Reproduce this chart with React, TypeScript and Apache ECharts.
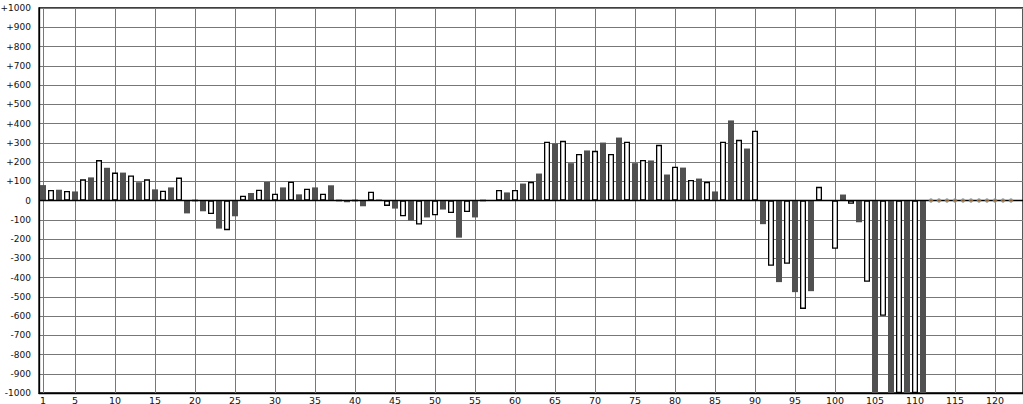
import React, { useEffect, useRef } from "react";
import * as echarts from "echarts";

const categories: string[] = Array.from({ length: 123 }, (_, i) => String(i + 1));

// values for categories 1..111 (odd = dark bars, even = white bars)
const values: (number | null)[] = [
  80, 55, 56, 50, 47, 110, 120, 210, 170, 145,
  145, 130, 95, 110, 58, 51, 68, 119, -67, 0,
  -56, -70, -146, -154, -82, 25, 39, 56, 96, 35,
  68, 98, 32, 61, 68, 35, 79, 0, -9, 0,
  -30, 46, 5, -28, -42, -82, -104, -125, -88, -77,
  -47, -65, -193, -60, -88, 0, 0, 55, 42, 55,
  88, 97, 140, 305, 296, 310, 194, 242, 260, 258,
  301, 242, 327, 305, 194, 211, 208, 289, 135, 175,
  171, 107, 114, 97, 47, 305, 416, 315, 270, 362,
  -123, -339, -424, -329, -476, -563, -471, 71, 0, -251,
  31, -17, -113, -422, -1000, -599, -1000, -1000, -1000, -1000,
  -1000,
];

// small markers on the zero line (categories 112..122)
const markerCats: string[] = ["112", "113", "114", "115", "116", "117", "118", "119", "120", "121", "122"];
const markerValues: number[] = [0, 0, 0, 0, 0, 0, 0, 0, 0, 0, 0];

const labelCats: number[] = [1, 5, 10, 15, 20, 25, 30, 35, 40, 45, 50, 55, 60, 65, 70, 75, 80, 85, 90, 95, 100, 105, 110, 115, 120];

const DARK = "#505050";
const GRID = "#777777";
const FONT = "DejaVu Sans";

export default function App() {
  const ref = useRef<HTMLDivElement>(null);
  useEffect(() => {
    if (!ref.current) return;
    const chart = echarts.init(ref.current, undefined, { renderer: "svg" });
    const barData = values.map((v, i) => ({
      value: v,
      itemStyle:
        i % 2 === 0
          ? { color: DARK, borderWidth: 0 }
          : { color: "#ffffff", borderColor: "#000000", borderWidth: 1.3 },
    }));
    chart.setOption({
      animation: false,
      backgroundColor: "#ffffff",
      grid: {
        left: 39,
        right: 0,
        top: 8,
        bottom: 11,
        containLabel: false,
        outerBoundsMode: "none",
        show: true,
        borderColor: "#000",
        borderWidth: 1.3,
        backgroundColor: "transparent",
      },
      xAxis: {
        type: "category",
        data: categories,
        boundaryGap: true,
        axisLine: { show: true, onZero: false, lineStyle: { color: "#000", width: 1.3 } },
        axisTick: { show: false },
        splitLine: { show: false },
        axisLabel: {
          interval: (i: number) => labelCats.indexOf(i + 1) >= 0,
          margin: 2,
          fontFamily: FONT,
          fontSize: 9.5,
          color: "#111",
          showMinLabel: true,
        },
      },
      yAxis: {
        type: "value",
        min: -1000,
        max: 1000,
        interval: 100,
        axisLine: { show: true, lineStyle: { color: "#000", width: 1.3 } },
        axisTick: { show: false },
        splitLine: { show: true, lineStyle: { color: GRID, width: 1 } },
        axisLabel: {
          margin: 8,
          fontFamily: FONT,
          fontSize: 9,
          color: "#111",
          formatter: (v: number) => (v > 0 ? "+" + v : String(v)),
        },
      },
      series: [
        {
          type: "line",
          data: [],
          silent: true,
          z: 1,
          markLine: {
            silent: true,
            symbol: "none",
            z: 1,
            label: { show: false },
            lineStyle: { color: GRID, type: "solid", width: 1 },
            data: labelCats.map((c) => ({ xAxis: String(c) })),
          },
        },
        {
          type: "bar",
          data: barData,
          barWidth: 6,
          z: 2,
          clip: true,
          markLine: {
            silent: true,
            symbol: "none",
            z: 3,
            label: { show: false },
            lineStyle: { color: "#000", type: "solid", width: 1.3 },
            data: [{ yAxis: 0 }],
          },
        },
        {
          type: "scatter",
          data: markerCats.map((c, i) => [c, markerValues[i]]),
          symbol: "circle",
          symbolSize: 4,
          z: 4,
          itemStyle: { color: "#b8783a", borderColor: "#6fa8c8", borderWidth: 0.6 },
        },
      ],
    });
    return () => chart.dispose();
  }, []);
  return (
    <div
      ref={ref}
      style={{ position: "fixed", left: 0, top: 0, width: 1023, height: 404 }}
    />
  );
}
